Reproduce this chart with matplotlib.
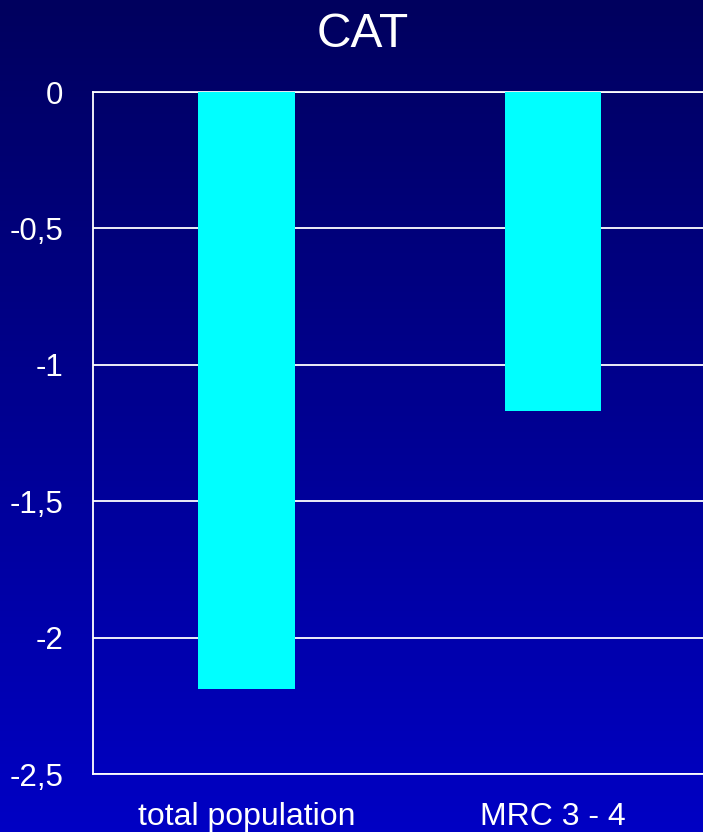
import numpy as np
import matplotlib.pyplot as plt

categories = ['total population', 'MRC 3 - 4']
values = [-2.19, -1.17]
yticks = [0, -0.5, -1, -1.5, -2, -2.5]
ytick_labels = ['0', '-0,5', '-1', '-1,5', '-2', '-2,5']

plt.rcParams['font.family'] = ['Liberation Sans', 'DejaVu Sans']

fig = plt.figure(figsize=(7.03, 8.32), dpi=100)

# vertical navy-to-blue background
bg = fig.add_axes([0, 0, 1, 1], zorder=-1)
grad = np.linspace(0, 1, 256).reshape(-1, 1)
top = np.array([0, 0, 94]) / 255
bottom = np.array([0, 0, 196]) / 255
img = top + (bottom - top) * grad[:, :, None]
bg.imshow(img, aspect='auto', extent=[0, 1, 0, 1])
bg.axis('off')

left = 93 / 703
bottom_y = 1 - 774 / 832
height = (774 - 92) / 832
ax = fig.add_axes([left, bottom_y, 1 - left, height])
ax.patch.set_alpha(0)

x = np.arange(len(categories))
ax.bar(x, values, width=0.316, color='#00FFFF', zorder=3)

ax.set_ylim(-2.5, 0)
ax.set_xlim(-0.5, 1.489)
ax.set_yticks(yticks)
ax.set_yticklabels(ytick_labels)
ax.set_xticks(x)
ax.set_xticklabels(categories)
ax.tick_params(colors='white', length=0)
ax.tick_params(axis='y', labelsize=22.5, pad=21.5)
ax.tick_params(axis='x', labelsize=23, pad=20)
ax.grid(axis='y', color='white', linewidth=1.3, zorder=1)

ax.spines['right'].set_visible(False)
for side in ['left', 'bottom', 'top']:
    ax.spines[side].set_color('white')
    ax.spines[side].set_linewidth(1.3)

fig.text(363 / 703, 1 - 47 / 832, 'CAT', color='white', fontsize=34.5,
         ha='center', va='baseline')

fig.savefig('out.png', dpi=100)
